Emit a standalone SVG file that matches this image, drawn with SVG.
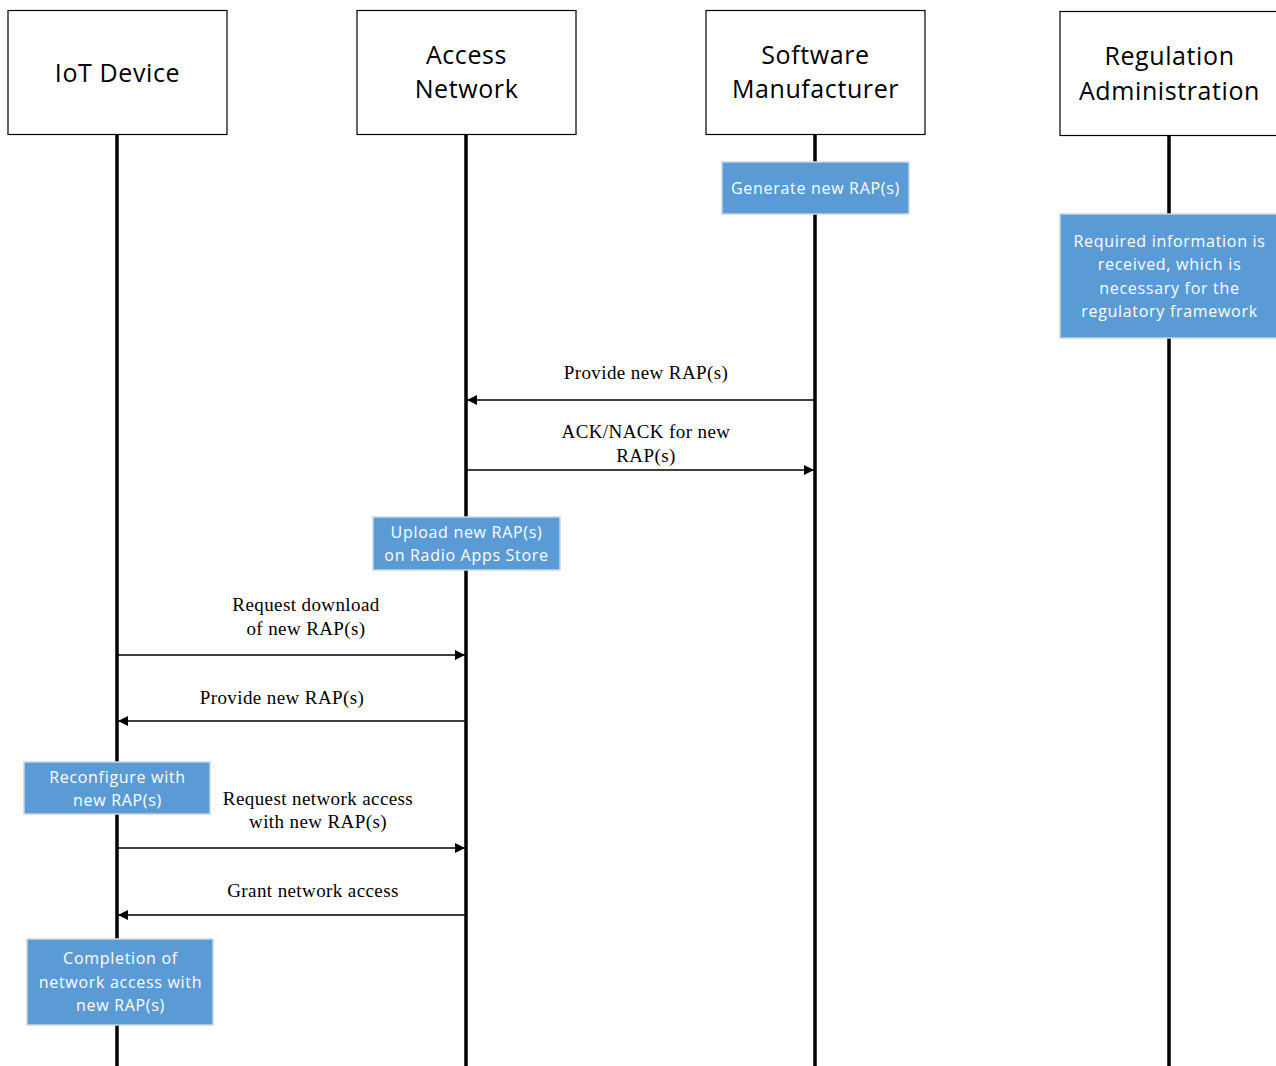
<svg xmlns="http://www.w3.org/2000/svg" width="1276" height="1066" viewBox="0 0 1276 1066">
<defs>
<marker id="ah" viewBox="0 0 10 10" refX="10" refY="5" markerWidth="10" markerHeight="10" markerUnits="userSpaceOnUse" orient="auto">
<path d="M0,0 L10,5 L0,10 Z" fill="#000"/>
</marker>
<style>
.actor{fill:#fff;stroke:#000;stroke-width:1.2}
.atxt{font-family:"Open Sans","Liberation Sans",sans-serif;font-size:25px;fill:#000;text-anchor:middle;letter-spacing:0.6px}
.life{stroke:#000;stroke-width:3.5}
.act{fill:#5B9BD5;stroke:#C9D6E3;stroke-width:1.5}
.btxt{font-family:"Open Sans","Liberation Sans",sans-serif;font-size:16px;fill:#fff;text-anchor:middle;letter-spacing:0.7px}
.msg{stroke:#000;stroke-width:1.5;fill:none;marker-end:url(#ah)}
.mtxt{font-family:"Liberation Serif",serif;font-size:19px;fill:#000;text-anchor:middle;letter-spacing:0.4px}
</style>
</defs>
<rect width="1276" height="1066" fill="#fff"/>
<g id="lifelines">
<line class="life" x1="117" y1="134" x2="117" y2="1066"/>
<line class="life" x1="466" y1="134" x2="466" y2="1066"/>
<line class="life" x1="815" y1="134" x2="815" y2="1066"/>
<line class="life" x1="1169" y1="135" x2="1169" y2="1066"/>
</g>
<g id="iot-device"><rect class="actor" x="8" y="10.5" width="219" height="124"/><text class="atxt" x="117.5" y="82">IoT Device</text></g>
<g id="access-network"><rect class="actor" x="357" y="10.5" width="219" height="124"/><text class="atxt" x="466.5" y="64">Access</text><text class="atxt" x="466.5" y="98">Network</text></g>
<g id="software-manufacturer"><rect class="actor" x="706" y="10.5" width="219" height="124"/><text class="atxt" x="815.5" y="64">Software</text><text class="atxt" x="815.5" y="98">Manufacturer</text></g>
<g id="regulation-administration"><rect class="actor" x="1060" y="11.5" width="219" height="124"/><text class="atxt" x="1169.5" y="65">Regulation</text><text class="atxt" x="1169.5" y="100">Administration</text></g>
<g id="generate"><rect class="act" x="722" y="162" width="187" height="52"/><text class="btxt" x="815.5" y="194">Generate new RAP(s)</text></g>
<g id="required-info"><rect class="act" x="1060" y="214" width="218" height="124"/><text class="btxt" x="1169.5" y="247">Required information is</text><text class="btxt" x="1169.5" y="270">received, which is</text><text class="btxt" x="1169.5" y="294">necessary for the</text><text class="btxt" x="1169.5" y="317">regulatory framework</text></g>
<g id="upload"><rect class="act" x="373" y="517" width="187" height="53"/><text class="btxt" x="466.5" y="538">Upload new RAP(s)</text><text class="btxt" x="466.5" y="561">on Radio Apps Store</text></g>
<g id="reconfigure"><rect class="act" x="24" y="762" width="186" height="52"/><text class="btxt" x="117.5" y="783">Reconfigure with</text><text class="btxt" x="117.5" y="806">new RAP(s)</text></g>
<g id="completion"><rect class="act" x="27" y="939" width="186" height="86"/><text class="btxt" x="120.5" y="964">Completion of</text><text class="btxt" x="120.5" y="988">network access with</text><text class="btxt" x="120.5" y="1011">new RAP(s)</text></g>
<g id="connectors">
<line class="msg" x1="815" y1="400" x2="467" y2="400"/>
<text class="mtxt" x="646" y="379">Provide new RAP(s)</text>
<line class="msg" x1="466" y1="470" x2="814" y2="470"/>
<text class="mtxt" x="646" y="438">ACK/NACK for new</text>
<text class="mtxt" x="646" y="462">RAP(s)</text>
<line class="msg" x1="117" y1="655" x2="465" y2="655"/>
<text class="mtxt" x="306" y="611">Request download</text>
<text class="mtxt" x="306" y="635">of new RAP(s)</text>
<line class="msg" x1="466" y1="721" x2="118" y2="721"/>
<text class="mtxt" x="282" y="704">Provide new RAP(s)</text>
<line class="msg" x1="117" y1="848" x2="465" y2="848"/>
<text class="mtxt" x="318" y="805">Request network access</text>
<text class="mtxt" x="318" y="828">with new RAP(s)</text>
<line class="msg" x1="466" y1="915" x2="118" y2="915"/>
<text class="mtxt" x="313" y="897">Grant network access</text>
</g>
</svg>
